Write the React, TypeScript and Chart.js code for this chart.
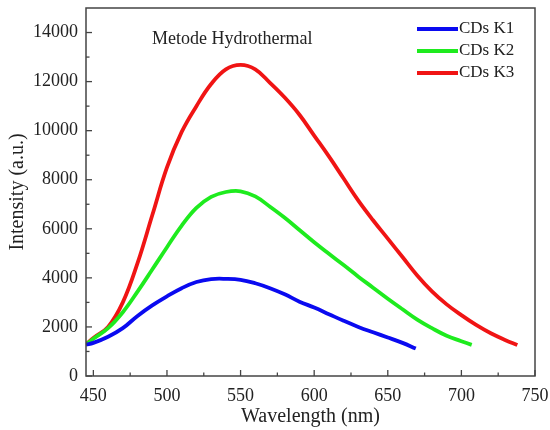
import React, { useEffect, useRef } from "react";
import { Chart, registerables } from "chart.js";

Chart.register(...registerables);

// ---- data ----
const k1Wavelength = [445, 450, 460, 470, 480, 490, 500, 510, 520, 530, 540, 550, 560, 570, 580, 590, 600, 610, 620, 630, 640, 650, 660, 669];
const k1Intensity = [1280, 1350, 1600, 1950, 2450, 2880, 3250, 3580, 3830, 3950, 3960, 3920, 3780, 3580, 3330, 3030, 2790, 2520, 2250, 2000, 1780, 1570, 1350, 1120];

const k2Wavelength = [445, 450, 460, 470, 480, 490, 500, 510, 520, 530, 540, 550, 560, 570, 580, 590, 600, 610, 620, 630, 640, 650, 660, 670, 680, 690, 700, 707];
const k2Intensity = [1280, 1520, 1950, 2600, 3440, 4340, 5250, 6130, 6850, 7300, 7500, 7530, 7320, 6900, 6450, 5950, 5450, 4980, 4520, 4050, 3600, 3150, 2720, 2300, 1950, 1640, 1420, 1270];

const k3Wavelength = [445, 450, 460, 470, 480, 490, 500, 510, 520, 530, 540, 550, 560, 570, 580, 590, 600, 610, 620, 630, 640, 650, 660, 670, 680, 690, 700, 710, 720, 730, 738];
const k3Intensity = [1300, 1550, 2000, 3000, 4600, 6550, 8500, 9950, 11000, 11900, 12500, 12680, 12500, 11950, 11350, 10650, 9800, 8950, 8050, 7150, 6350, 5600, 4850, 4100, 3450, 2920, 2480, 2080, 1740, 1460, 1260];

const seriesLabels = ["CDs K1", "CDs K2", "CDs K3"];
const seriesColors = ["#0a0af0", "#1eeb1e", "#f01414"];

const xTicks = [450, 500, 550, 600, 650, 700, 750];
const yTicks = [0, 2000, 4000, 6000, 8000, 10000, 12000, 14000];

const annotationText = "Metode Hydrothermal";
const xTitle = "Wavelength (nm)";
const yTitle = "Intensity (a.u.)";

const FONT = "'Liberation Serif', 'Times New Roman', serif";

const toPoints = (xs: number[], ys: number[]) => xs.map((x, i) => ({ x, y: ys[i] }));

const framePlugin = {
  id: "frameAndTicks",
  afterDraw(chart: any) {
    const { ctx, chartArea, scales } = chart;
    const { left, right, top, bottom } = chartArea;
    ctx.save();
    ctx.strokeStyle = "#444";
    ctx.lineWidth = 1.5;
    ctx.strokeRect(left, top, right - left, bottom - top);
    ctx.lineWidth = 1.3;
    const xs = scales.x;
    const ys = scales.y;
    for (let i = 0; i < xTicks.length; i++) {
      const px = xs.getPixelForValue(xTicks[i]);
      ctx.beginPath();
      ctx.moveTo(px, bottom);
      ctx.lineTo(px, bottom - 6);
      ctx.stroke();
      if (i < xTicks.length - 1) {
        const mx = xs.getPixelForValue((xTicks[i] + xTicks[i + 1]) / 2);
        ctx.beginPath();
        ctx.moveTo(mx, bottom);
        ctx.lineTo(mx, bottom - 3.5);
        ctx.stroke();
      }
    }
    for (let i = 0; i < yTicks.length; i++) {
      const py = ys.getPixelForValue(yTicks[i]);
      ctx.beginPath();
      ctx.moveTo(left, py);
      ctx.lineTo(left + 6, py);
      ctx.stroke();
      if (i < yTicks.length - 1) {
        const my = ys.getPixelForValue((yTicks[i] + yTicks[i + 1]) / 2);
        ctx.beginPath();
        ctx.moveTo(left, my);
        ctx.lineTo(left + 3.5, my);
        ctx.stroke();
      }
    }
    ctx.fillStyle = "#222";
    ctx.font = `18px ${FONT}`;
    ctx.textBaseline = "middle";
    ctx.textAlign = "left";
    ctx.fillText(annotationText, left + 66, top + 31);
    const ds = chart.data.datasets;
    ctx.font = `17px ${FONT}`;
    for (let i = 0; i < ds.length; i++) {
      const y = top + 21 + i * 22;
      ctx.strokeStyle = ds[i].borderColor;
      ctx.lineWidth = 4;
      ctx.beginPath();
      ctx.moveTo(right - 118, y);
      ctx.lineTo(right - 77, y);
      ctx.stroke();
      ctx.fillStyle = "#222";
      ctx.fillText(ds[i].label, right - 76, y);
    }
    ctx.restore();
  },
};

export default function App() {
  const ref = useRef<HTMLCanvasElement | null>(null);
  useEffect(() => {
    if (!ref.current) return;
    const chart = new Chart(ref.current, {
      type: "line",
      data: {
        datasets: [
          { label: seriesLabels[0], data: toPoints(k1Wavelength, k1Intensity), borderColor: seriesColors[0] },
          { label: seriesLabels[1], data: toPoints(k2Wavelength, k2Intensity), borderColor: seriesColors[1] },
          { label: seriesLabels[2], data: toPoints(k3Wavelength, k3Intensity), borderColor: seriesColors[2] },
        ].map((d) => ({
          ...d,
          borderWidth: 3.8,
          pointRadius: 0,
          tension: 0.4,
          fill: false,
        })),
      },
      options: {
        animation: false,
        responsive: false,
        layout: { padding: { top: 8, right: 15, left: 0, bottom: 0 } },
        plugins: { legend: { display: false }, tooltip: { enabled: false } },
        scales: {
          x: {
            type: "linear",
            min: 445,
            max: 750,
            grid: { display: false, drawTicks: false },
            border: { display: false },
            afterBuildTicks: (s: any) => {
              s.ticks = xTicks.map((v) => ({ value: v }));
            },
            afterFit: (s: any) => {
              s.height = 54;
              s.paddingLeft = 0;
              s.paddingRight = 0;
            },
            ticks: {
              padding: 9,
              maxRotation: 0,
              color: "#222",
              font: { family: FONT, size: 18 },
              callback: (v: any) => String(v),
            },
            title: {
              display: true,
              text: xTitle,
              color: "#222",
              font: { family: FONT, size: 20 },
              padding: { top: 0, bottom: 1 },
            },
          },
          y: {
            type: "linear",
            min: 0,
            max: 15000,
            grid: { display: false, drawTicks: false },
            border: { display: false },
            afterBuildTicks: (s: any) => {
              s.ticks = yTicks.map((v) => ({ value: v }));
            },
            afterFit: (s: any) => {
              s.width = 86;
              s.paddingTop = 0;
              s.paddingBottom = 0;
            },
            ticks: {
              padding: 8,
              color: "#222",
              font: { family: FONT, size: 18 },
              callback: (v: any) => String(v),
            },
            title: {
              display: true,
              text: yTitle,
              color: "#222",
              font: { family: FONT, size: 20 },
              padding: { top: 6, bottom: 0 },
            },
          },
        },
      },
      plugins: [framePlugin],
    });
    return () => chart.destroy();
  }, []);
  return (
    <div style={{ position: "fixed", left: 0, top: 0, width: 550, height: 430, background: "#fff" }}>
      <canvas ref={ref} width={550} height={430} />
    </div>
  );
}
